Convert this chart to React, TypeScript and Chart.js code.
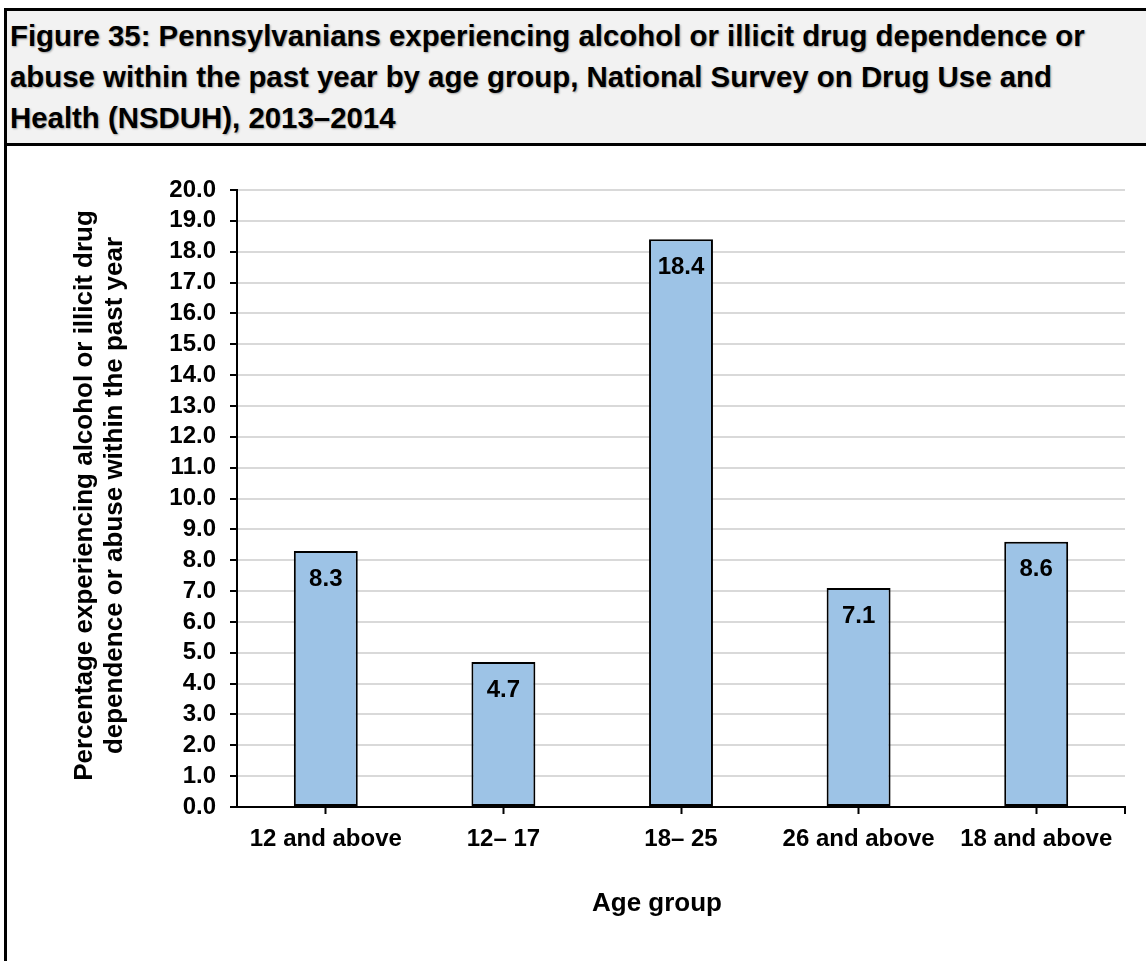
import React, { useEffect, useRef } from "react";
import { Chart, registerables } from "chart.js";

Chart.register(...registerables);

const categories = ["12 and above", "12\u2013 17", "18\u2013 25", "26 and above", "18 and above"];
const values = [8.3, 4.7, 18.4, 7.1, 8.6];
const yTickMin = 0;
const yTickMax = 20;
const yTickStep = 1;
const titleLines = [
  "Figure 35: Pennsylvanians experiencing alcohol or illicit drug dependence or",
  "abuse within the past year by age group, National Survey on Drug Use and",
  "Health (NSDUH), 2013\u20132014",
];
const yTitleLines = ["Percentage experiencing alcohol or illicit drug", "dependence or abuse within the past year"];
const xTitle = "Age group";

const FONT = "'Liberation Sans', Arial, Helvetica, sans-serif";

const extrasPlugin = {
  id: "extras",
  afterDatasetsDraw(chart: any) {
    const ctx = chart.ctx;
    const meta = chart.getDatasetMeta(0);
    ctx.save();
    ctx.fillStyle = "#000";
    ctx.font = `bold 24px ${FONT}`;
    ctx.textAlign = "center";
    ctx.textBaseline = "middle";
    meta.data.forEach((el: any, i: number) => {
      ctx.fillText(values[i].toFixed(1), el.x, el.y + 28);
    });
    ctx.restore();
  },
  afterDraw(chart: any) {
    const ctx = chart.ctx;
    const area = chart.chartArea;
    ctx.save();
    // right end tick on x axis
    ctx.strokeStyle = "#000";
    ctx.lineWidth = 2;
    ctx.beginPath();
    ctx.moveTo(area.right, area.bottom);
    ctx.lineTo(area.right, area.bottom + 7);
    ctx.stroke();
    // axis titles
    ctx.fillStyle = "#000";
    ctx.font = `bold 26px ${FONT}`;
    ctx.textAlign = "center";
    ctx.textBaseline = "middle";
    ctx.fillText(xTitle, 650, 758);
    const cy = (area.top + area.bottom) / 2 - 3;
    yTitleLines.forEach((line, i) => {
      ctx.save();
      ctx.translate(78 + i * 30, cy);
      ctx.rotate(-Math.PI / 2);
      ctx.fillText(line, 0, 0);
      ctx.restore();
    });
    ctx.restore();
  },
};

export default function App() {
  const canvasRef = useRef<HTMLCanvasElement | null>(null);

  useEffect(() => {
    const canvas = canvasRef.current;
    if (!canvas) return;
    const chart = new Chart(canvas, {
      type: "bar",
      data: {
        labels: categories,
        datasets: [
          {
            data: values,
            backgroundColor: "#9dc3e6",
            borderColor: "#000000",
            borderWidth: 2,
            borderSkipped: false,
            barPercentage: 0.36,
            categoryPercentage: 1.0,
          },
        ],
      },
      options: {
        animation: false,
        responsive: false,
        devicePixelRatio: 1,
        layout: { padding: { left: 0, top: 44, right: 21, bottom: 0 } },
        plugins: {
          legend: { display: false },
          tooltip: { enabled: false },
          title: { display: false },
        },
        scales: {
          x: {
            afterFit: (scale: any) => {
              scale.height = 154;
            },
            grid: {
              offset: false,
              drawOnChartArea: false,
              drawTicks: true,
              tickLength: 7,
              tickColor: "#000",
              tickWidth: 2,
            },
            border: { color: "#000", width: 2 },
            ticks: {
              color: "#000",
              font: { family: FONT, size: 24, weight: "bold" },
              padding: 11,
              maxRotation: 0,
              autoSkip: false,
            },
          },
          y: {
            min: yTickMin,
            max: yTickMax,
            afterFit: (scale: any) => {
              scale.width = 230;
            },
            grid: {
              color: "#d9d9d9",
              lineWidth: 2,
              tickLength: 7,
              tickColor: "#000",
              tickWidth: 2,
            },
            border: { color: "#000", width: 2 },
            ticks: {
              stepSize: yTickStep,
              autoSkip: false,
              color: "#000",
              font: { family: FONT, size: 24, weight: "bold" },
              padding: 14,
              callback: (v: any) => Number(v).toFixed(1),
            },
          },
        },
      },
      plugins: [extrasPlugin],
    });
    return () => chart.destroy();
  }, []);

  return (
    <div style={{ position: "fixed", left: 0, top: 0, width: 1146, height: 961, overflow: "hidden", background: "#fff" }}>
      <div
        style={{
          position: "absolute",
          left: 4,
          top: 8,
          width: 1160,
          height: 980,
          border: "3px solid #000",
          boxSizing: "border-box",
          background: "#fff",
        }}
      >
        <div
          style={{
            height: 135,
            boxSizing: "border-box",
            background: "#f2f2f2",
            borderBottom: "3px solid #000",
            padding: "4px 3px 0 3px",
            fontFamily: FONT,
            fontWeight: "bold",
            fontSize: 29.4,
            lineHeight: "41px",
            color: "#000",
            whiteSpace: "nowrap",
            textShadow: "1px 1px 2px rgba(0,0,0,0.35)",
          }}
        >
          {titleLines.map((l, i) => (
            <div key={i}>{l}</div>
          ))}
        </div>
        <canvas ref={canvasRef} width={1139} height={815} style={{ display: "block", width: 1139, height: 815 }} />
      </div>
    </div>
  );
}
